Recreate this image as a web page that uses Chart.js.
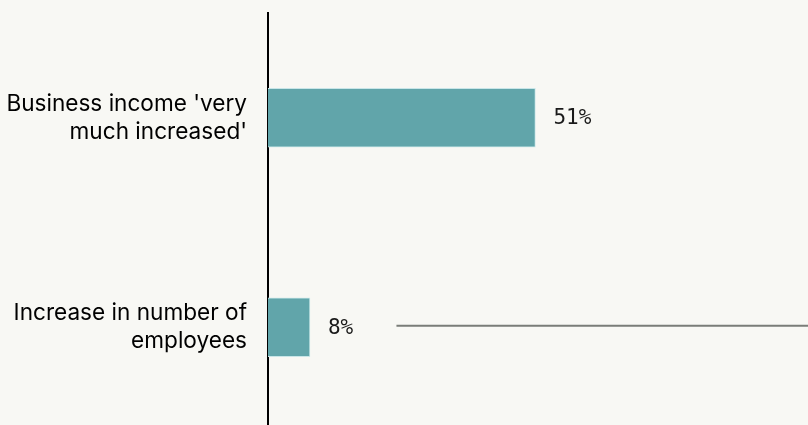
<!DOCTYPE html>
<html>
<head>
<meta charset="utf-8">
<script src="https://cdn.jsdelivr.net/npm/chart.js@4"></script>
<style>
  html, body { margin: 0; padding: 0; background: #f8f8f4; overflow: hidden; }
  #wrap { width: 808px; height: 432px; }
</style>
</head>
<body>
<div id="wrap"><canvas id="chart" width="808" height="432"></canvas></div>
<script>
// data
const categories = [
    ["Business income 'very", "much increased'"],
    ["Increase in number of", "employees"]
];
const values = [51, 8];
const valueLabels = ['51%', '8%'];
// grey rule next to second bar: starts at this x value, runs to the right edge
const ruleStart = 24.5;
const ruleRow = 1;

const barColor = '#61a5aa';

// value labels + grey rule
const extras = {
    id: 'extras',
    afterDatasetsDraw(chart) {
        const ctx = chart.ctx;
        const meta = chart.getDatasetMeta(0);
        ctx.save();
        ctx.font = '21px "DejaVu Sans Mono", monospace';
        ctx.fillStyle = '#1a1a1a';
        ctx.textBaseline = 'middle';
        meta.data.forEach((bar, i) => {
            ctx.fillText(valueLabels[i], bar.x + 18, bar.y + 1);
        });
        const xs = chart.scales.x;
        const y = meta.data[ruleRow].y - 1.5;
        ctx.strokeStyle = '#7a7d78';
        ctx.lineWidth = 2;
        ctx.beginPath();
        ctx.moveTo(xs.getPixelForValue(ruleStart), y);
        ctx.lineTo(chart.width, y);
        ctx.stroke();
        ctx.restore();
    }
};

const ctx = document.getElementById('chart').getContext('2d');
new Chart(ctx, {
    type: 'bar',
    data: {
        labels: categories,
        datasets: [{
            data: values,
            backgroundColor: barColor,
            borderColor: '#c9e6e8',
            borderWidth: 1,
            borderSkipped: 'left',
            barThickness: 59
        }]
    },
    options: {
        indexAxis: 'y',
        responsive: false,
        animation: false,
        layout: { padding: { top: 13, right: 0, bottom: 0, left: 0 } },
        plugins: {
            legend: { display: false },
            tooltip: { enabled: false }
        },
        scales: {
            x: {
                display: false,
                min: 0,
                max: 103
            },
            y: {
                afterFit(scale) {
                    scale.width = 268;
                    scale.paddingTop = 0;
                    scale.paddingBottom = 0;
                },
                grid: { display: false, drawTicks: false },
                border: { display: true, color: '#000', width: 2 },
                ticks: {
                    padding: 21,
                    color: '#000',
                    font: { family: 'Inter', size: 22.6, lineHeight: 1.24 }
                }
            }
        }
    },
    plugins: [extras]
});
</script>
</body>
</html>
